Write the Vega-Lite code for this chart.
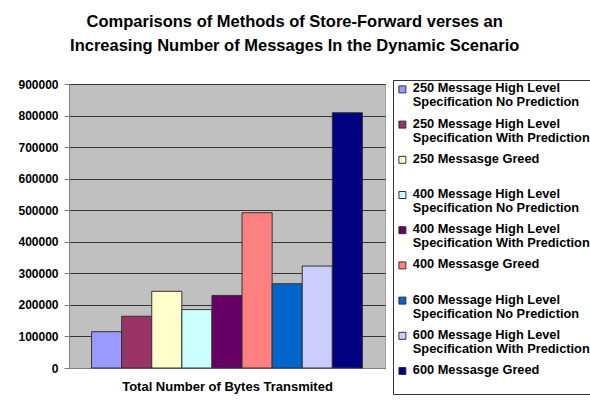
{
  "$schema": "https://vega.github.io/schema/vega-lite/v6.json",
  "width": 316,
  "height": 284,
  "padding": {"left": 17, "top": 13, "right": 0, "bottom": 5},
  "background": "white",
  "title": {
    "text": ["Comparisons of Methods of Store-Forward verses an", "Increasing Number of Messages In the Dynamic Scenario"],
    "font": "Liberation Sans",
    "fontSize": 16.5,
    "fontWeight": "bold",
    "color": "black",
    "lineHeight": 24,
    "anchor": "middle",
    "frame": "bounds",
    "offset": 24,
    "dx": -11
  },
  "config": {
    "view": {"fill": "#C0C0C0", "stroke": "#A0A0A0", "strokeWidth": 1},
    "font": "Liberation Sans"
  },
  "data": {
    "values": [
      {"series": "250 Message High Level|Specification No Prediction", "bytes": 115000},
      {"series": "250 Message High Level|Specification With Prediction", "bytes": 164000},
      {"series": "250 Messasge Greed| ", "bytes": 243000},
      {"series": "400 Message High Level|Specification No Prediction", "bytes": 185000},
      {"series": "400 Message High Level|Specification With Prediction", "bytes": 230000},
      {"series": "400 Messasge Greed| ", "bytes": 492000},
      {"series": "600 Message High Level|Specification No Prediction", "bytes": 267000},
      {"series": "600 Message High Level|Specification With Prediction", "bytes": 323000},
      {"series": "600 Messasge Greed| ", "bytes": 809000}
    ]
  },
  "mark": {"type": "bar", "stroke": "#333333", "strokeWidth": 1},
  "encoding": {
    "x": {
      "field": "series",
      "type": "nominal",
      "sort": null,
      "scale": {"paddingInner": 0, "paddingOuter": 0.75},
      "axis": {
        "labels": false,
        "ticks": false,
        "domainColor": "#808080",
        "title": "Total Number of Bytes Transmited",
        "titleFont": "Liberation Sans",
        "titleFontSize": 13,
        "titleFontWeight": "bold",
        "titleColor": "black",
        "titlePadding": 12
      }
    },
    "y": {
      "field": "bytes",
      "type": "quantitative",
      "scale": {"domain": [0, 900000], "nice": false},
      "axis": {
        "values": [0, 100000, 200000, 300000, 400000, 500000, 600000, 700000, 800000, 900000],
        "format": "d",
        "title": null,
        "grid": true,
        "gridColor": "#333333",
        "gridWidth": 1,
        "domainColor": "#808080",
        "tickColor": "#808080",
        "tickSize": 5,
        "labelPadding": 6,
        "labelFont": "Liberation Sans",
        "labelFontSize": 12,
        "labelFontWeight": "bold",
        "labelColor": "black"
      }
    },
    "color": {
      "field": "series",
      "type": "nominal",
      "sort": null,
      "scale": {
        "range": ["#9999FF", "#993366", "#FFFFCC", "#CCFFFF", "#660066", "#FF8080", "#0066CC", "#CCCCFF", "#000080"]
      },
      "legend": {
        "title": null,
        "orient": "none",
        "legendX": 324,
        "legendY": -4,
        "strokeColor": "#333333",
        "padding": 3,
        "symbolType": "square",
        "symbolSize": 49,
        "symbolStrokeColor": "#333333",
        "symbolStrokeWidth": 1,
        "labelExpr": "split(datum.label, '|')",
        "labelFont": "Liberation Sans",
        "labelFontSize": 12.8,
        "labelFontWeight": "bold",
        "labelColor": "black",
        "labelLimit": 300,
        "labelBaseline": "top",
        "labelOffset": 4,
        "rowPadding": 7.2,
        "encode": {
          "labels": {"update": {"dy": {"value": -7}, "lineHeight": {"value": 14}}}
        }
      }
    }
  }
}
